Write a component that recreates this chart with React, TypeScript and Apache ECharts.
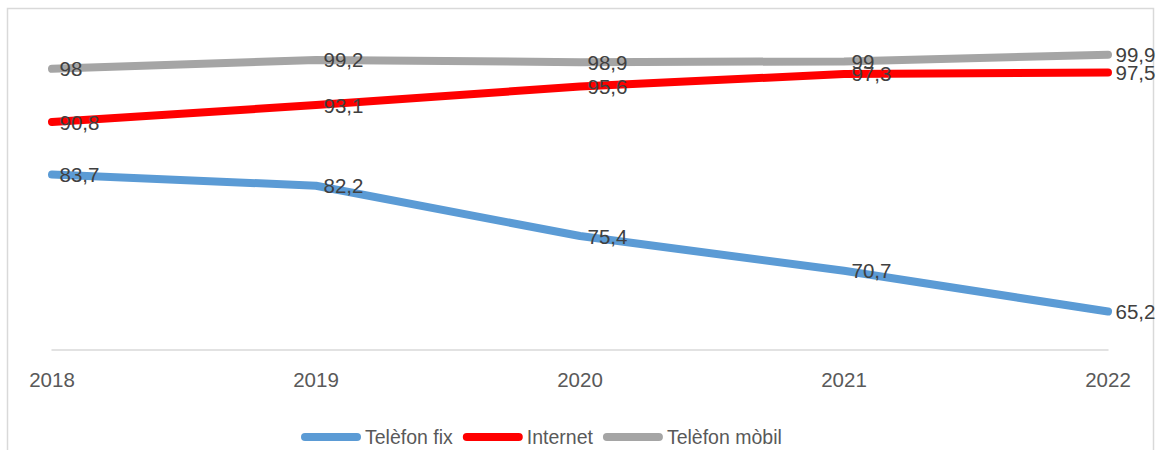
import React, { useEffect, useRef } from "react";
import * as echarts from "echarts";

const years = ["2018", "2019", "2020", "2021", "2022"];
const telefonFix = [83.7, 82.2, 75.4, 70.7, 65.2];
const internet = [90.8, 93.1, 95.6, 97.3, 97.5];
const telefonMobil = [98, 99.2, 98.9, 99, 99.9];

const seriesNames = ["Telèfon fix", "Internet", "Telèfon mòbil"];
const seriesColors = ["#5B9BD5", "#FF0000", "#A5A5A5"];
const seriesData = [telefonFix, internet, telefonMobil];

const FONT = "'Liberation Sans', Arial, sans-serif";

export default function App() {
  const ref = useRef<HTMLDivElement>(null);
  useEffect(() => {
    if (!ref.current) return;
    const chart = echarts.init(ref.current, null, { renderer: "svg" });
    const legendIcon = "path://M4,0 H56 A4,4 0 0 1 56,8 H4 A4,4 0 0 1 4,0 Z";
    chart.setOption({
      animation: false,
      backgroundColor: "#ffffff",
      textStyle: { fontFamily: FONT },
      graphic: [
        {
          type: "rect",
          shape: { x: 7.5, y: 8.5, width: 1146, height: 470 },
          style: { fill: "none", stroke: "#D9D9D9", lineWidth: 1.5 },
          silent: true,
        },
      ],
      grid: { left: 52, right: 55, top: 54, bottom: 100, containLabel: false },
      legend: {
        left: 296,
        top: 422,
        itemWidth: 60,
        itemHeight: 8,
        itemGap: 10,
        icon: legendIcon,
        textStyle: { color: "#595959", fontSize: 19.5, fontFamily: FONT, padding: [0, 0, 0, -1] },
        data: seriesNames,
      },
      xAxis: {
        type: "category",
        data: years,
        boundaryGap: false,
        axisLine: { lineStyle: { color: "#D9D9D9", width: 1.5 } },
        axisTick: { show: false },
        axisLabel: { color: "#595959", fontSize: 20.5, margin: 19, fontFamily: FONT },
        splitLine: { show: false },
      },
      yAxis: {
        type: "value",
        min: 60,
        max: 100,
        show: false,
        splitLine: { show: false },
      },
      series: seriesNames.map((name, i) => ({
        name,
        type: "line",
        data: seriesData[i],
        symbol: "circle",
        symbolSize: 1,
        showSymbol: true,
        itemStyle: { color: seriesColors[i] },
        lineStyle: { color: seriesColors[i], width: 8, cap: "round", join: "round" },
        label: {
          show: true,
          position: "right",
          distance: 7,
          color: "#404040",
          fontSize: 20.5,
          fontFamily: FONT,
          formatter: (p: any) => String(p.value).replace(".", ","),
        },
        z: 2 + i,
      })),
    });
    return () => chart.dispose();
  }, []);
  return (
    <div
      ref={ref}
      style={{ position: "absolute", left: 0, top: 0, width: 1163, height: 450 }}
    />
  );
}
